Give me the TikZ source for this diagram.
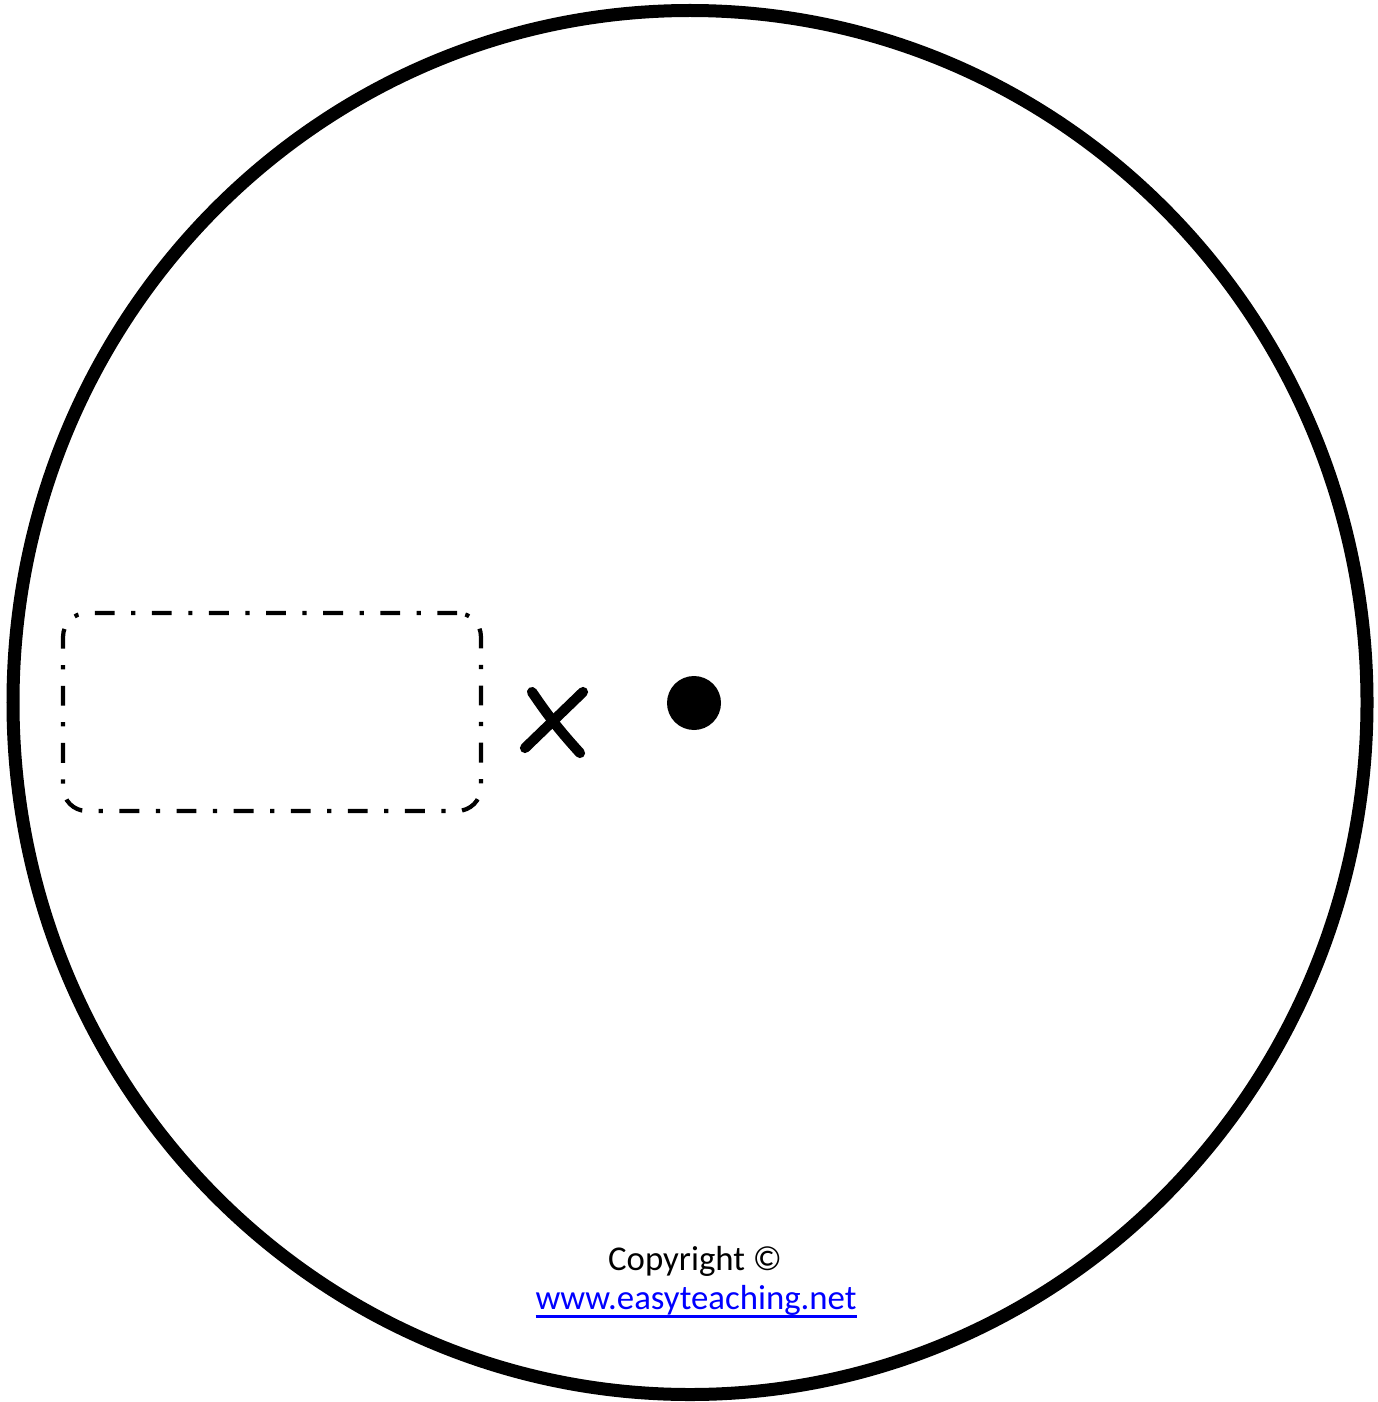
\documentclass[tikz,border=0pt]{standalone}
\usepackage{fontspec}
\setmainfont{Carlito}
\usepackage{xcolor}
\usepackage{tikz}
\usetikzlibrary{positioning}
\newcommand\siteline[1]{\setbox0\hbox{#1}\rlap{\rule[-5pt]{\wd0}{1.6pt}}\box0}

\begin{document}
\begin{tikzpicture}[
    x=0.02cm, y=-0.02cm,
    ring/.style={draw=black, line width=7.4pt},
    slot/.style={rectangle, draw=black, line width=2.4pt, rounded corners=13.5pt, minimum width=8.36cm, minimum height=3.96cm, dash pattern=on 11.3pt off 9.4pt on 2.4pt off 9.4pt},
    pivot/.style={circle, fill=black, minimum size=1.08cm, inner sep=0pt},
    cross/.style={line width=5.8pt, line cap=round},
    caption/.style={font=\fontsize{19.8}{24}\selectfont, anchor=base}
]
\useasboundingbox (0,0) rectangle (1377,1402);

% Outer ring
\draw[ring] (690,702.5) ellipse [x radius=677, y radius=692];

% Dash-dot window
\node[slot] (window) at (272,712) {};

% Cross mark
\draw[cross] (525,748) -- (583,692);
\draw[cross] (532,692) to[bend right=4] (580,753);

% Centre dot
\node[pivot] (centre) at (694,703) {};

% Copyright
\node[caption] (copy) at (695,1270) {Copyright ©};
\node[caption, text=blue] (site) at (696,1309) {\siteline{www.easyteaching.net}};

\end{tikzpicture}
\end{document}
